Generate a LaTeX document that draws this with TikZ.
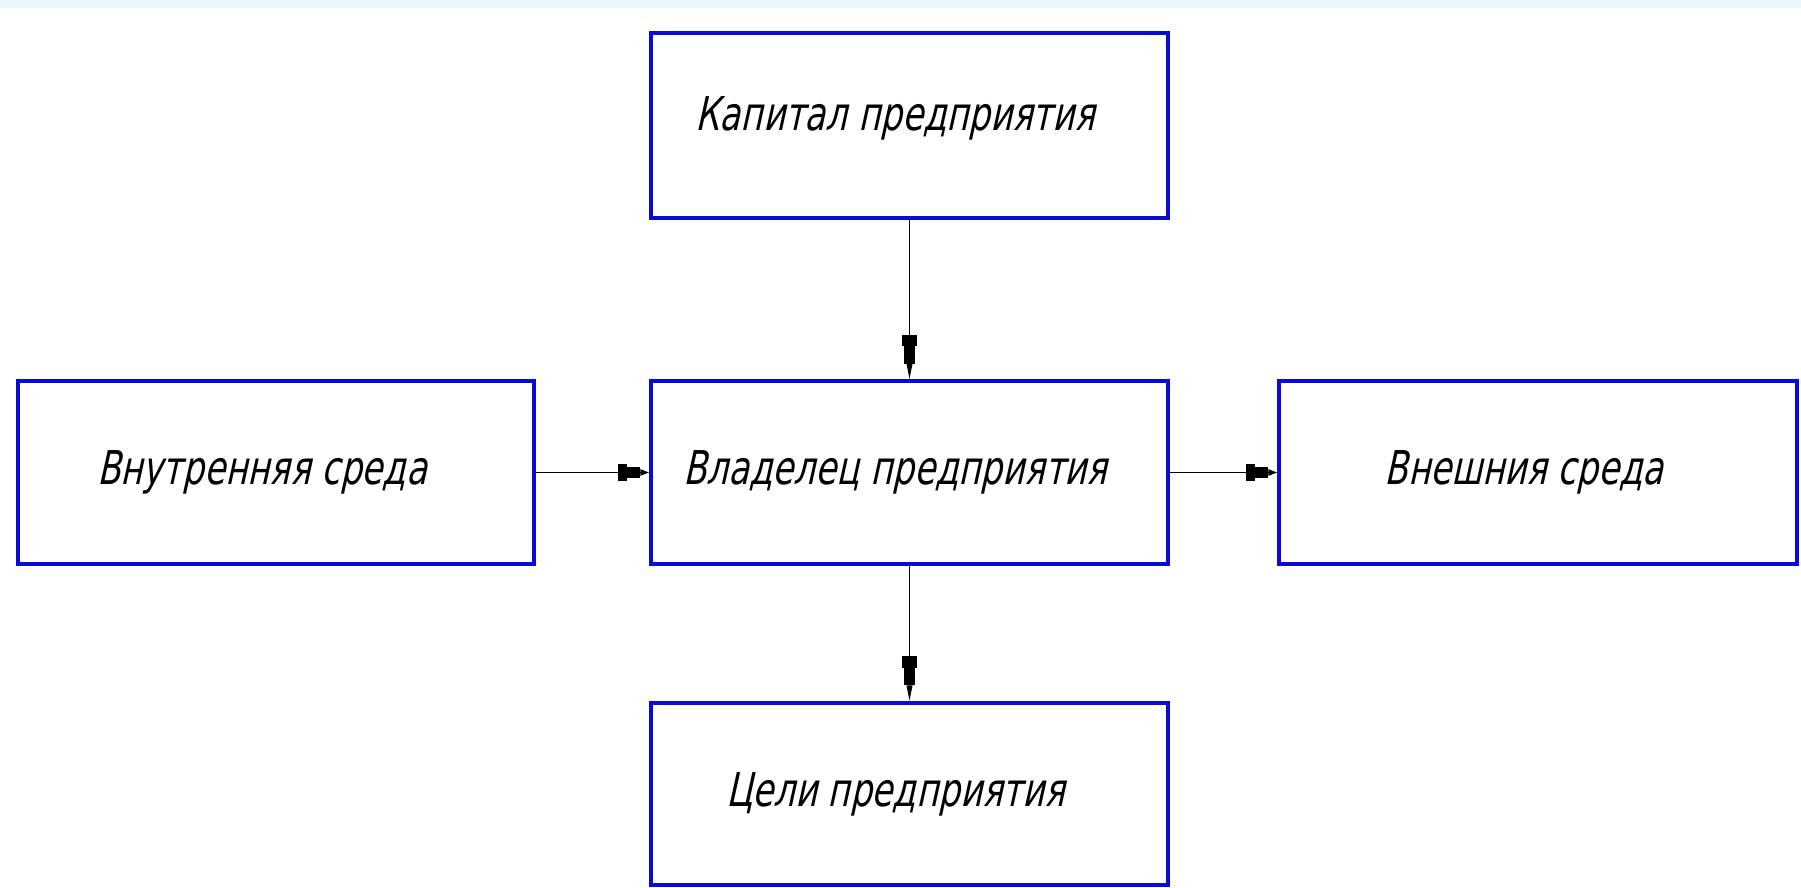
\documentclass[tikz,border=0pt]{standalone}
\usepackage{fontspec}
\newfontfamily\gost[FakeSlant=0.22,FakeStretch=0.73]{DejaVu Sans}
\usetikzlibrary{arrows.meta}
\definecolor{boxblue}{RGB}{10,10,215}
\definecolor{bandblue}{RGB}{236,244,254}
\tikzset{
  block/.style={draw=boxblue, line width=2.1pt, minimum width=10.34cm,
    minimum height=3.65cm, inner sep=0pt, text=black,
    font=\gost\fontsize{26.5}{31}\selectfont},
  caption/.style={draw=none, minimum width=0pt, minimum height=0pt, xshift=-0.28cm},
  varrow/.style={line width=1pt,
    -{Rectangle[length=6.5pt,width=8pt,sep=0pt]
      Rectangle[length=10pt,width=6pt,sep=0pt]
      Triangle[length=9pt,width=3.2pt,sep=0pt]}},
  harrow/.style={line width=1pt,
    -{Rectangle[length=5pt,width=10pt,sep=0pt]
      Rectangle[length=7.5pt,width=6.5pt,sep=0pt]
      Triangle[length=5pt,width=3.5pt,sep=0pt]}}
}
\begin{document}
\begin{tikzpicture}
  \useasboundingbox (0,0) rectangle (36.02,-17.76);
  \fill[white] (0,0) rectangle (36.02,-17.76);
  \fill[bandblue] (0,0) rectangle (36.02,-0.16);

  \node[block, minimum height=3.7cm] (cap) at (18.19,-2.51) {};
  \node[block] (own) at (18.19,-9.45) {};
  \node[block, minimum width=10.32cm] (inn) at (5.52,-9.45) {};
  \node[block, minimum width=10.36cm] (ext) at (30.76,-9.45) {};
  \node[block, minimum height=3.64cm] (goal) at (18.19,-15.88) {};

  \node[block, caption] (capt) at ([yshift=0.15cm]cap.center) {Капитал предприятия};
  \node[block, caption] (ownt) at (own.center) {Владелец предприятия};
  \node[block, caption] (innt) at (inn.center) {Внутренняя среда};
  \node[block, caption] (extt) at (ext.center) {Внешния среда};
  \node[block, caption] (goalt) at (goal.center) {Цели предприятия};

  \draw[varrow] (cap.south) -- (own.north);
  \draw[harrow] (inn.east) -- (own.west);
  \draw[harrow] (own.east) -- (ext.west);
  \draw[varrow] (own.south) -- (goal.north);
\end{tikzpicture}
\end{document}
